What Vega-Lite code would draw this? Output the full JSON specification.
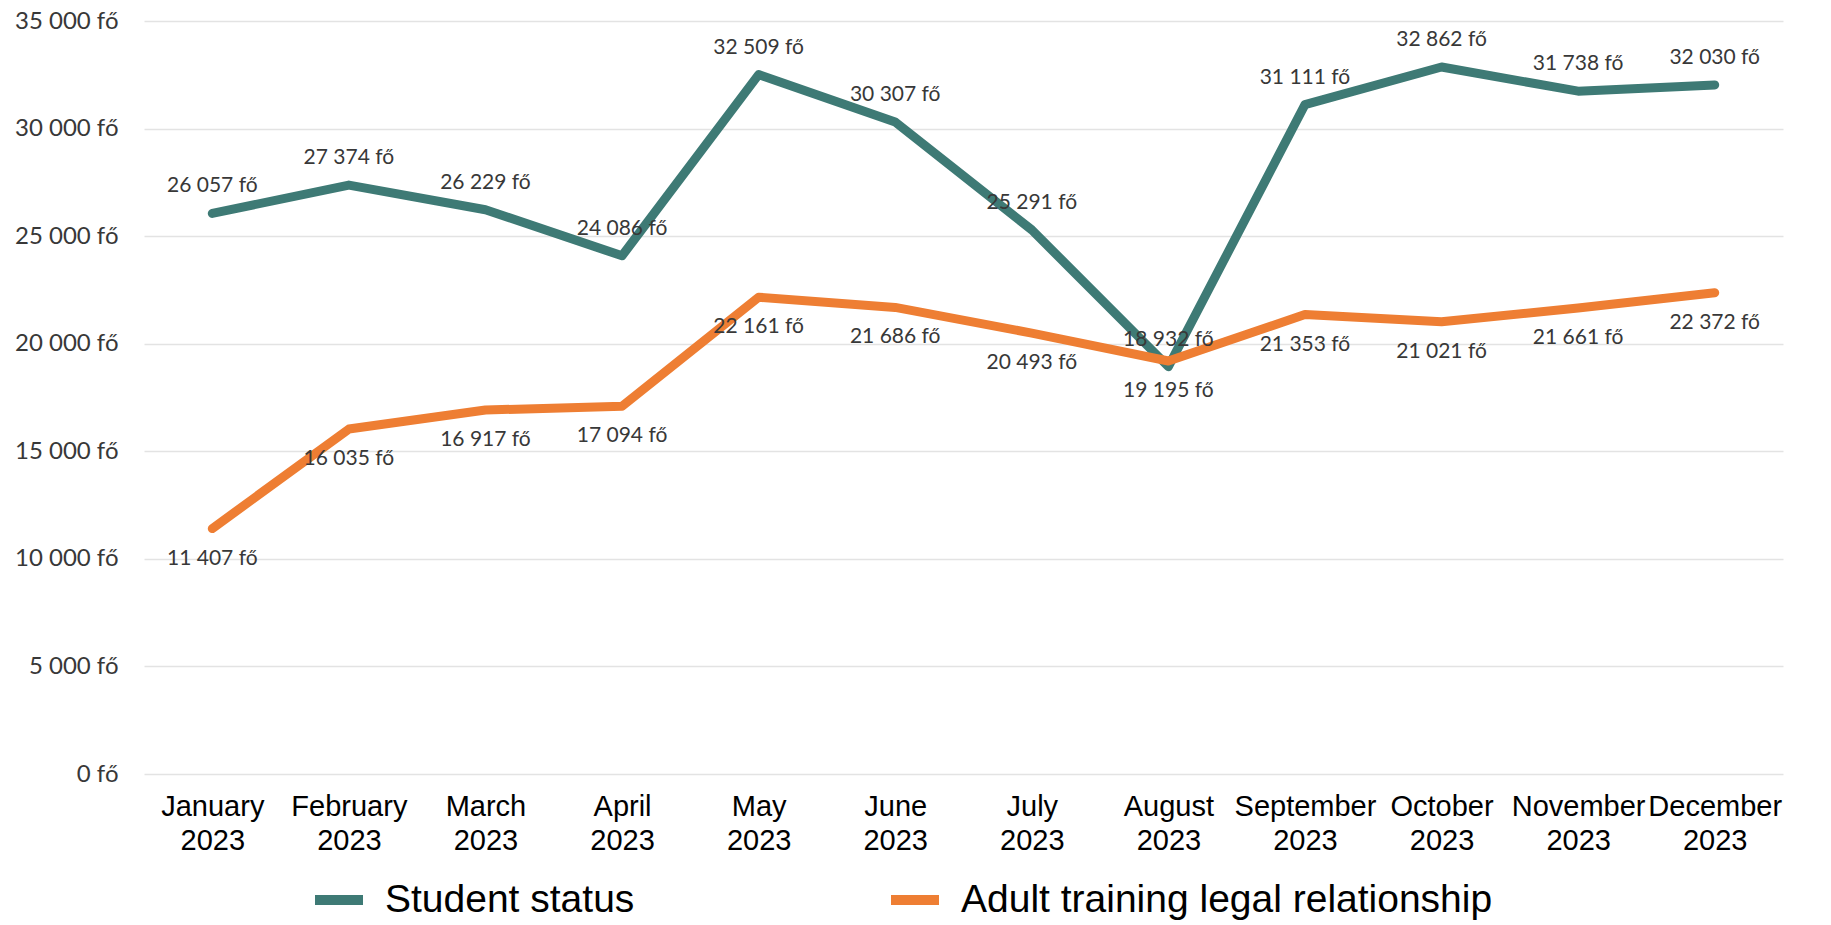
{
  "$schema": "https://vega.github.io/schema/vega-lite/v6.json",
  "width": 1639,
  "height": 753,
  "autosize": {"type": "none"},
  "padding": {"left": 144, "top": 21, "right": 48, "bottom": 151},
  "background": "white",
  "config": {
    "locale": {"number": {"decimal": ",", "thousands": " ", "grouping": [3], "currency": ["", ""]}},
    "view": {"stroke": null},
    "font": "Lato"
  },
  "data": {
    "values": [
      {"month": "January 2023", "series": "Student status", "value": 26057},
      {"month": "February 2023", "series": "Student status", "value": 27374},
      {"month": "March 2023", "series": "Student status", "value": 26229},
      {"month": "April 2023", "series": "Student status", "value": 24086},
      {"month": "May 2023", "series": "Student status", "value": 32509},
      {"month": "June 2023", "series": "Student status", "value": 30307},
      {"month": "July 2023", "series": "Student status", "value": 25291},
      {"month": "August 2023", "series": "Student status", "value": 18932},
      {"month": "September 2023", "series": "Student status", "value": 31111},
      {"month": "October 2023", "series": "Student status", "value": 32862},
      {"month": "November 2023", "series": "Student status", "value": 31738},
      {"month": "December 2023", "series": "Student status", "value": 32030},
      {"month": "January 2023", "series": "Adult training legal relationship", "value": 11407},
      {"month": "February 2023", "series": "Adult training legal relationship", "value": 16035},
      {"month": "March 2023", "series": "Adult training legal relationship", "value": 16917},
      {"month": "April 2023", "series": "Adult training legal relationship", "value": 17094},
      {"month": "May 2023", "series": "Adult training legal relationship", "value": 22161},
      {"month": "June 2023", "series": "Adult training legal relationship", "value": 21686},
      {"month": "July 2023", "series": "Adult training legal relationship", "value": 20493},
      {"month": "August 2023", "series": "Adult training legal relationship", "value": 19195},
      {"month": "September 2023", "series": "Adult training legal relationship", "value": 21353},
      {"month": "October 2023", "series": "Adult training legal relationship", "value": 21021},
      {"month": "November 2023", "series": "Adult training legal relationship", "value": 21661},
      {"month": "December 2023", "series": "Adult training legal relationship", "value": 22372}
    ]
  },
  "encoding": {
    "x": {
      "field": "month",
      "type": "ordinal",
      "sort": null,
      "scale": {"type": "point", "padding": 0.5},
      "axis": {
        "title": null,
        "labelAngle": 0,
        "ticks": false,
        "tickSize": 0,
        "domain": false,
        "grid": false,
        "labelFont": "Liberation Sans",
        "labelFontSize": 29,
        "labelColor": "#000000",
        "labelExpr": "split(datum.label, ' ')",
        "labelLineHeight": 34,
        "labelPadding": 18,
        "labelBaseline": "top"
      }
    },
    "y": {
      "field": "value",
      "type": "quantitative",
      "scale": {"domain": [0, 35000], "nice": false},
      "axis": {
        "title": null,
        "values": [0, 5000, 10000, 15000, 20000, 25000, 30000, 35000],
        "format": ",d",
        "labelExpr": "datum.label + ' fő'",
        "ticks": false,
        "domain": false,
        "grid": true,
        "gridColor": "#E3E3E3",
        "gridWidth": 1.5,
        "labelFont": "Lato",
        "labelFontSize": 24,
        "labelColor": "#383838",
        "labelPadding": 26
      }
    }
  },
  "layer": [
    {
      "mark": {"type": "line", "strokeWidth": 9, "strokeCap": "round", "strokeJoin": "round"},
      "encoding": {
        "color": {
          "field": "series",
          "type": "nominal",
          "scale": {"domain": ["Student status", "Adult training legal relationship"], "range": ["#3E7A75", "#EE7E33"]},
          "legend": {
            "title": null,
            "orient": "none",
            "legendX": 166,
            "legendY": 850,
            "direction": "horizontal",
            "symbolType": "stroke",
            "symbolStrokeWidth": 10,
            "symbolSize": 2304,
            "labelFont": "Liberation Sans",
            "labelFontSize": 39,
            "labelColor": "#000000",
            "labelOffset": 17,
            "labelLimit": 0,
            "columnPadding": 236,
            "padding": 0
          }
        }
      }
    },
    {
      "transform": [
        {"filter": "datum.series === 'Student status'"},
        {"calculate": "format(datum.value, ',d') + ' fő'", "as": "label"}
      ],
      "mark": {"type": "text", "dy": -27, "font": "Lato", "fontSize": 21, "color": "#383838"},
      "encoding": {"text": {"field": "label", "type": "nominal"}}
    },
    {
      "transform": [
        {"filter": "datum.series === 'Adult training legal relationship'"},
        {"calculate": "format(datum.value, ',d') + ' fő'", "as": "label"}
      ],
      "mark": {"type": "text", "dy": 30, "font": "Lato", "fontSize": 21, "color": "#383838"},
      "encoding": {"text": {"field": "label", "type": "nominal"}}
    }
  ]
}
